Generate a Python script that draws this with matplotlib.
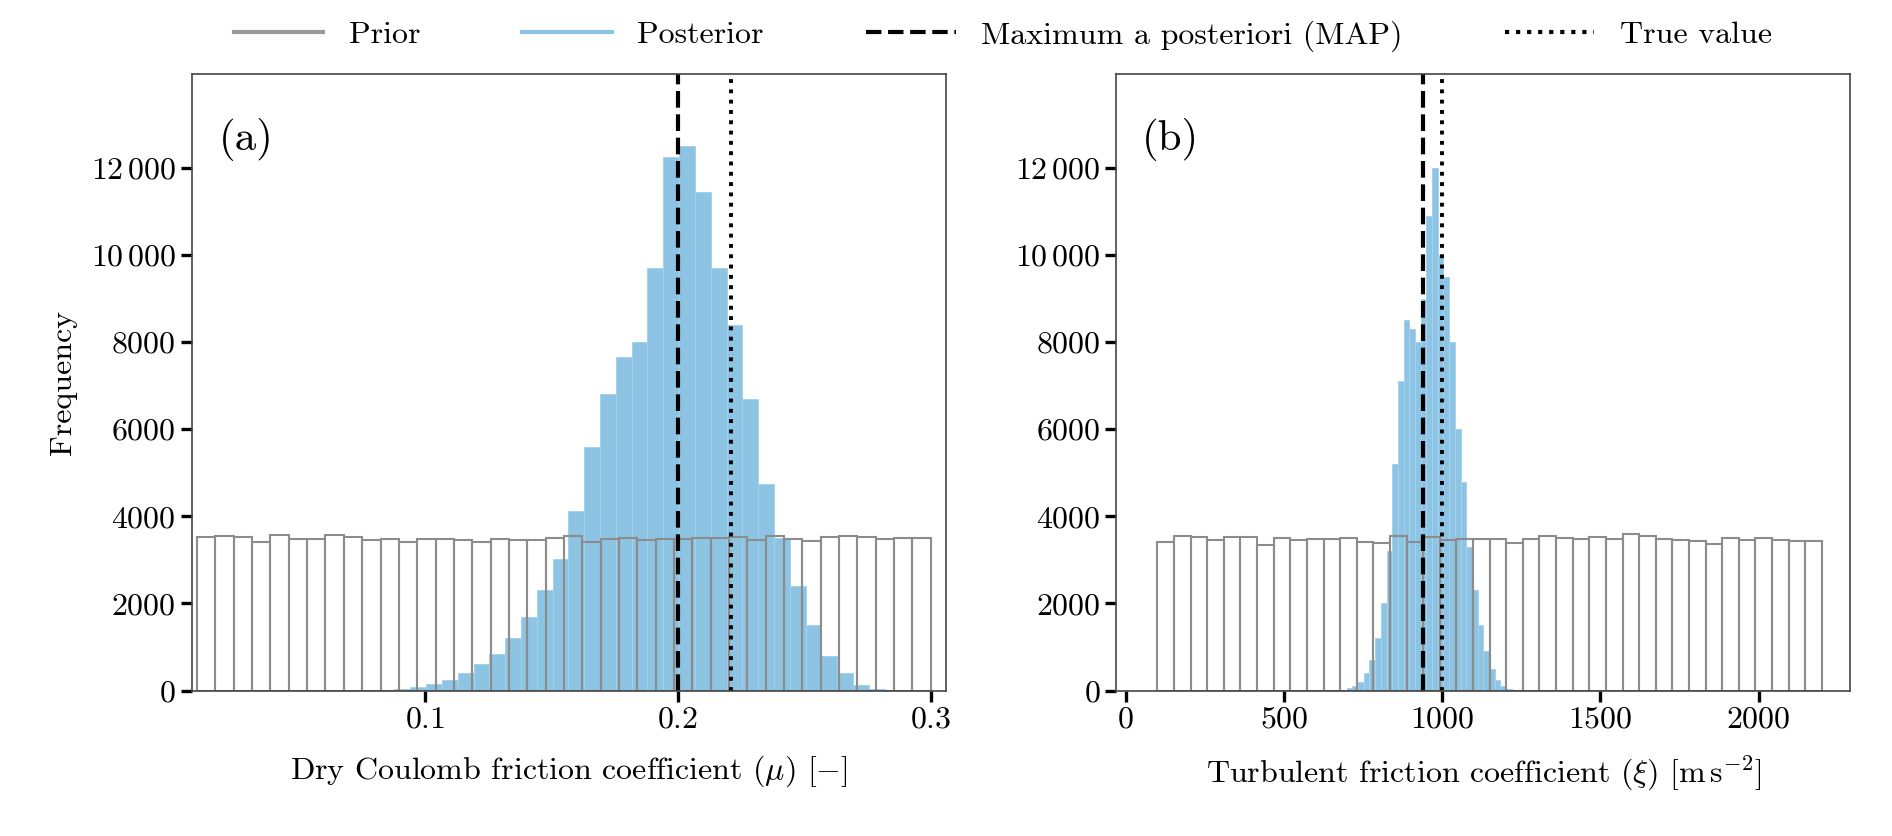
import numpy as np
import matplotlib
matplotlib.use("Agg")
import matplotlib.pyplot as plt
from matplotlib.lines import Line2D
from matplotlib.ticker import FuncFormatter

plt.rcParams['font.family'] = 'serif'
plt.rcParams['font.serif'] = ['cmr10']
plt.rcParams['mathtext.fontset'] = 'cm'
plt.rcParams['axes.formatter.use_mathtext'] = True

# ---- data ----
prior_a = [3530,3540,3530,3420,3580,3470,3490,3580,3530,3460,3480,3400,3470,3480,3460,3420,
           3490,3460,3460,3500,3550,3420,3470,3500,3460,3480,3490,3500,3500,3530,3460,3540,
           3470,3430,3530,3550,3530,3480,3500,3510]
prior_a_range = (0.01, 0.30)
post_a = [30,80,150,250,400,600,850,1200,1700,2300,3020,4130,5600,6800,7650,8000,9700,12250,
          12500,11450,9700,8400,6700,4750,3500,2400,1500,800,400,120,40]
post_a_start, post_a_width = 0.088, 0.00625
map_a, true_a = 0.200, 0.221

prior_b = [3420,3560,3530,3460,3520,3530,3340,3510,3460,3480,3480,3500,3400,3390,3540,3410,
           3520,3460,3470,3480,3470,3380,3480,3540,3500,3480,3520,3490,3600,3540,3470,3460,
           3430,3370,3510,3450,3500,3460,3440,3430]
prior_b_range = (100, 2200)
post_b = [20,50,100,200,400,700,1200,2000,3200,5200,7100,8500,8300,8000,9000,10900,12000,
          10000,9500,8000,6000,4800,3300,2300,1500,900,500,250,100,40]
post_b_start, post_b_width = 680, 18
map_b, true_b = 940, 1000

post_color = '#8dc4e3'
prior_color = '#8c8c8c'

fig = plt.figure(figsize=(18.92, 8.36), dpi=100)
axa = fig.add_axes([0.1015, 0.174, 0.3985, 0.737])
axb = fig.add_axes([0.590, 0.174, 0.388, 0.737])

def yfmt(v, pos):
    v = int(round(v))
    if v >= 10000:
        return r'$%d\,%03d$' % (v // 1000, v % 1000)
    return r'$%d$' % v

def draw(ax, prior, prange, post, pstart, pwidth, vmap, vtrue):
    n = len(prior)
    pe = np.linspace(prange[0], prange[1], n + 1)
    qe = pstart + pwidth * np.arange(len(post) + 1)
    ax.hist(qe[:-1], bins=qe, weights=post, color=post_color, edgecolor='#a5d2ec', linewidth=0.7)
    ax.hist(pe[:-1], bins=pe, weights=prior, facecolor='none', edgecolor=prior_color, linewidth=1.5)
    ax.axvline(vmap, color='black', ls='--', lw=3.0, dashes=(4, 1.6))
    ax.axvline(vtrue, color='black', ls=':', lw=2.8)
    ax.set_ylim(0, 14150)
    ax.set_yticks(range(0, 12001, 2000))
    ax.yaxis.set_major_formatter(FuncFormatter(yfmt))
    ax.tick_params(labelsize=23, width=2.4, length=8)
    for s in ax.spines.values():
        s.set_linewidth(1.2)
        s.set_color('#444444')

draw(axa, prior_a, prior_a_range, post_a, post_a_start, post_a_width, map_a, true_a)
draw(axb, prior_b, prior_b_range, post_b, post_b_start, post_b_width, map_b, true_b)

axa.set_xlim(0.008, 0.306)
axa.set_xticks([0.1, 0.2, 0.3])
axa.xaxis.set_major_formatter(FuncFormatter(lambda v, p: r'$%.1f$' % v))
axb.set_xlim(-30, 2290)
axb.set_xticks([0, 500, 1000, 1500, 2000])
axb.xaxis.set_major_formatter(FuncFormatter(lambda v, p: r'$%d$' % v))

axa.set_ylabel('Frequency', fontsize=23, labelpad=10)
axa.set_xlabel(r'Dry Coulomb friction coefficient $(\mu)$ $[-]$', fontsize=23, labelpad=14)
axb.set_xlabel(r'Turbulent friction coefficient $(\xi)$ $[\mathrm{m\,s^{-2}}]$', fontsize=23, labelpad=14)
axa.text(0.035, 0.93, '(a)', transform=axa.transAxes, fontsize=31, va='top')
axb.text(0.035, 0.93, '(b)', transform=axb.transAxes, fontsize=31, va='top')

handles = [Line2D([], [], color='#999999', lw=3),
           Line2D([], [], color=post_color, lw=3),
           Line2D([], [], color='black', lw=3, ls='--'),
           Line2D([], [], color='black', lw=3, ls=':')]
labels = ['Prior', 'Posterior', 'Maximum a posteriori (MAP)', 'True value']
fig.legend(handles, labels, loc='center', bbox_to_anchor=(0.53, 0.957), ncol=4,
           frameon=False, fontsize=23, handlelength=2.8, columnspacing=3.2)

fig.savefig('out.png', dpi=100)
